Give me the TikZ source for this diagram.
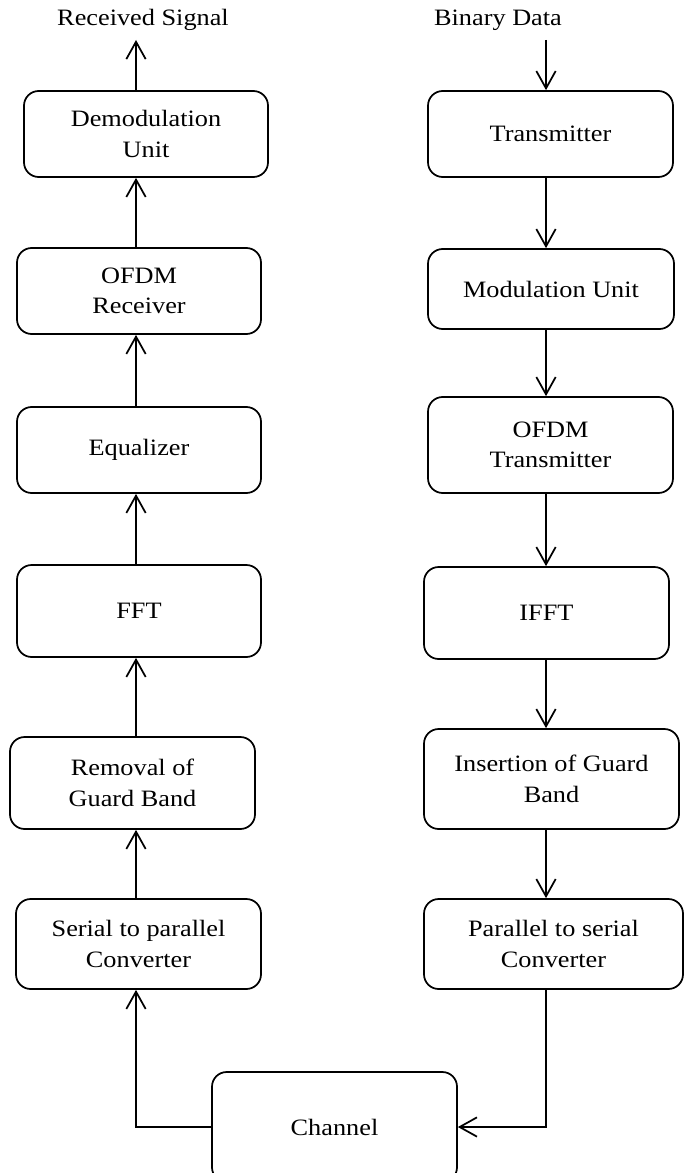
\documentclass[tikz,border=0pt]{standalone}
\usepackage{fontspec}
\setmainfont{Liberation Serif}[FakeStretch=1.12]
\usetikzlibrary{arrows.meta}
\begin{document}
\begin{tikzpicture}[x=0.75pt,y=-0.75pt,
  box/.style 2 args={draw, line width=1.3pt, rounded corners=11pt, align=center,
    inner sep=0pt, minimum width=#1*0.75pt, minimum height=#2*0.75pt,
    font=\fontsize{17.6}{22.9}\selectfont},
  lbl/.style={inner sep=0pt, font=\fontsize{17.6}{22.9}\selectfont},
  arr/.style={line width=1.3pt, -{Straight Barb[length=13pt,width=14.5pt,line width=1.3pt]}}]
\useasboundingbox (0,0) rectangle (686,1173);
\clip (0,0) rectangle (686,1173);
\coordinate (cl) at (136,0);
\coordinate (cr) at (546,0);
% labels
\node[lbl] (rsig) at (143,20) {Received Signal};
\node[lbl] (bdat) at (498,20) {Binary Data};
\coordinate (rsend) at (136,40);
\coordinate (bdstart) at (546,40);
% left column
\node[box={244}{86}] (L1) at (146,134) {Demodulation\\Unit};
\node[box={244}{86}] (L2) at (139,291) {OFDM\\Receiver};
\node[box={244}{86}] (L3) at (139,450) {Equalizer};
\node[box={244}{92}] (L4) at (139,611) {FFT};
\node[box={245}{92}] (L5) at (132.5,783) {Removal of\\Guard Band};
\node[box={245}{90}] (L6) at (138.5,944) {Serial to parallel\\Converter};
% right column
\node[box={245}{86}] (R1) at (550.5,134) {Transmitter};
\node[box={246}{80}] (R2) at (551,289) {Modulation Unit};
\node[box={245}{96}] (R3) at (550.5,445) {OFDM\\Transmitter};
\node[box={245}{92}] (R4) at (546.5,613) {IFFT};
\node[box={255}{100}] (R5) at (551.5,779) {Insertion of Guard\\Band};
\node[box={259}{90}] (R6) at (553.5,944) {Parallel to serial\\Converter};
% channel
\node[box={245}{110}] (ch) at (334.5,1127) {Channel};
% left arrows (upward)
\draw[arr] (L1.north -| cl) -- (rsend);
\draw[arr] (L2.north -| cl) -- (L1.south -| cl);
\draw[arr] (L3.north -| cl) -- (L2.south -| cl);
\draw[arr] (L4.north -| cl) -- (L3.south -| cl);
\draw[arr] (L5.north -| cl) -- (L4.south -| cl);
\draw[arr] (L6.north -| cl) -- (L5.south -| cl);
% right arrows (downward)
\draw[arr] (bdstart) -- (R1.north -| cr);
\draw[arr] (R1.south -| cr) -- (R2.north -| cr);
\draw[arr] (R2.south -| cr) -- (R3.north -| cr);
\draw[arr] (R3.south -| cr) -- (R4.north -| cr);
\draw[arr] (R4.south -| cr) -- (R5.north -| cr);
\draw[arr] (R5.south -| cr) -- (R6.north -| cr);
% channel links
\draw[arr] (R6.south -| cr) |- (ch.east);
\draw[arr] (ch.west) -| (L6.south -| cl);
\end{tikzpicture}
\end{document}
